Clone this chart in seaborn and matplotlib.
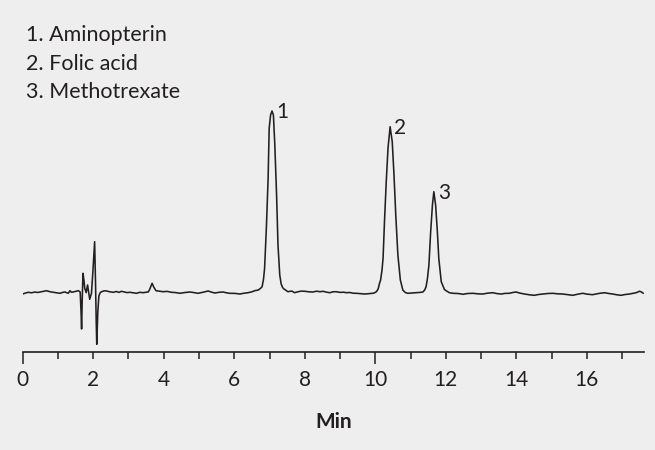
import matplotlib
matplotlib.use("Agg")
import matplotlib.pyplot as plt
import seaborn as sns
import pandas as pd

# Retention time (min) and detector signal (arbitrary units, baseline = 0)
time_min = [
    0.00, 0.08, 0.16, 0.25, 0.35, 0.42, 0.49, 0.58, 0.68, 0.77, 0.87, 0.96,
    1.06, 1.13, 1.20, 1.29, 1.34, 1.38, 1.43, 1.50, 1.58, 1.63,
    1.655, 1.67, 1.69, 1.71, 1.735, 1.76, 1.80, 1.84, 1.87, 1.90, 1.95,
    1.99, 2.04, 2.065, 2.085, 2.10, 2.13, 2.16, 2.20, 2.24, 2.31, 2.38,
    2.47, 2.57, 2.66, 2.73, 2.80, 2.88, 2.96, 3.04, 3.13, 3.23, 3.32,
    3.42, 3.50, 3.56, 3.60, 3.63, 3.67, 3.72, 3.78, 3.88, 3.98, 4.10,
    4.22, 4.34, 4.46, 4.60, 4.74, 4.86, 4.97, 5.12, 5.26, 5.36, 5.45,
    5.57, 5.68, 5.78, 5.87, 6.02, 6.16, 6.28, 6.39, 6.50, 6.58, 6.68,
    6.74, 6.79, 6.83, 6.86, 6.91, 6.96, 6.99, 7.03, 7.07, 7.11, 7.15,
    7.20, 7.24, 7.29, 7.33, 7.37, 7.40, 7.45, 7.52, 7.60, 7.64, 7.71,
    7.80, 7.90, 8.00, 8.12, 8.23, 8.33, 8.43, 8.52, 8.62, 8.71, 8.80,
    8.89, 9.00, 9.10, 9.18, 9.28, 9.37, 9.46, 9.58, 9.70, 9.82, 9.93,
    9.98, 10.03, 10.08, 10.12, 10.15, 10.19, 10.22, 10.26, 10.31, 10.36,
    10.42, 10.48, 10.53, 10.58, 10.64, 10.71, 10.78, 10.85, 10.92, 11.04,
    11.16, 11.27, 11.35, 11.40, 11.44, 11.48, 11.52, 11.57, 11.62, 11.66,
    11.71, 11.76, 11.80, 11.87, 11.96, 12.02, 12.10, 12.20, 12.34, 12.41,
    12.48, 12.62, 12.77, 12.90, 13.05, 13.18, 13.33, 13.45, 13.57, 13.68,
    13.80, 13.90, 13.99, 14.11, 14.23, 14.37, 14.51, 14.63, 14.75, 14.89,
    15.03, 15.17, 15.31, 15.45, 15.60, 15.74, 15.88, 16.02, 16.16, 16.33,
    16.50, 16.62, 16.73, 16.85, 16.97, 17.09, 17.21, 17.31, 17.40, 17.49,
    17.55, 17.60,
]
signal = [
    -2.0, -1.0, -0.3, -0.8, 0.0, -0.5, 0.0, 0.6, 1.3, 0.3, -0.3, -0.8,
    -1.3, -0.4, 0.0, -1.3, 1.3, -0.2, 0.0, 0.6, 1.3, 0.0,
    -20.0, -37.0, -5.0, 18.7, 12.0, 3.7, -0.7, 7.0, 0.0, -7.3, -1.3,
    20.0, 50.3, 10.0, -30.0, -52.3, -20.0, -4.0, -0.5, 0.3, 1.2, 1.0,
    0.2, -0.3, 0.5, -0.4, 0.7, 0.1, -0.6, -0.3, -0.8, -1.3, -0.3,
    -0.7, -0.2, 0.0, 2.5, 5.3, 8.7, 4.7, 1.3, 0.8, 0.3, 0.6,
    -0.3, -0.6, -1.3, -0.5, 0.0, -0.6, -1.3, -0.2, 1.0, -0.2, -1.0,
    -0.3, 0.0, -0.8, -1.3, -1.4, -2.0, -1.2, -0.7, 0.2, 1.3, 2.0,
    3.5, 5.3, 13.0, 23.7, 63.7, 113.7, 163.7, 177.0, 181.0, 177.0, 147.0,
    97.0, 47.0, 17.0, 8.0, 4.5, 3.3, 2.0, 0.3, 0.8, 0.8, -0.7,
    0.2, 0.9, 0.7, 0.2, 0.0, 0.8, 0.3, 0.7, -0.2, -0.7, 0.2,
    0.3, -0.4, -0.2, -0.7, -0.5, -1.2, -1.3, -1.6, -2.0, -1.6, -1.3,
    -0.8, 0.3, 3.0, 8.7, 12.0, 22.0, 33.7, 70.3, 110.3, 143.7,
    165.3, 150.3, 117.0, 77.0, 37.0, 12.0, 2.0, -0.5, -1.3, -1.0,
    -0.7, -0.4, 0.0, 2.0, 5.3, 14.0, 27.0, 60.3, 87.0, 100.3,
    87.0, 60.3, 33.7, 10.3, 2.5, 1.0, -0.7, -1.3, -1.5, -1.8,
    -2.3, -1.5, -1.3, -1.8, -2.0, -1.2, -0.7, -1.6, -2.0, -1.4,
    -1.3, -0.5, 0.0, -1.2, -2.0, -2.8, -3.3, -2.5, -2.0, -1.5,
    -1.3, -1.8, -2.0, -2.6, -3.3, -2.2, -1.3, -2.2, -2.7, -1.5,
    -0.7, -1.5, -2.0, -2.8, -3.3, -2.5, -2.0, -1.3, -0.7, 0.7,
    0.0, -1.3,
]

peak_numbers = ["1", "2", "3"]
peak_times = [7.07, 10.42, 11.66]
peak_heights = [181.0, 165.3, 100.3]
compound_names = ["1. Aminopterin", "2. Folic acid", "3. Methotrexate"]
tick_values = list(range(0, 18))
tick_labels = [str(v) if v % 2 == 0 else "" for v in tick_values]

BG = "#eeeeee"
INK = "#231f20"
FONT = ["Lato", "DejaVu Sans"]

sns.set_theme(style="white")
plt.rcParams["font.family"] = FONT

fig = plt.figure(figsize=(6.55, 4.5), dpi=100, facecolor=BG)
ax = fig.add_axes([22.7 / 655, 98 / 450, (644 - 22.7) / 655, 332 / 450])
ax.set_facecolor(BG)

df = pd.DataFrame({"Min": time_min, "Signal": signal})
sns.lineplot(data=df, x="Min", y="Signal", ax=ax, color=INK, linewidth=1.15,
             estimator=None, sort=False)

ax.set_xlim(0, 17.62)
ax.set_ylim(-60, 272)

for sp in ["top", "right", "left"]:
    ax.spines[sp].set_visible(False)
ax.spines["bottom"].set_color(INK)
ax.spines["bottom"].set_linewidth(1.2)

ax.set_yticks([])
ax.set_ylabel("")
ax.set_xticks(tick_values)
ax.set_xticklabels(tick_labels)
ax.tick_params(axis="x", direction="out", length=5, width=1.1, color=INK,
               pad=8, labelsize=15, labelcolor=INK)
ax.tick_params(axis="x", which="major", bottom=True)
for i, tk in enumerate(ax.xaxis.get_major_ticks()):
    if tick_values[i] in (0, 10):
        tk.tick1line.set_markersize(8.8)

ax.set_xlabel("Min", fontsize=15, fontweight="bold", color=INK, labelpad=16)

for num, t, h in zip(peak_numbers, peak_times, peak_heights):
    ax.annotate(num, xy=(t, h), xytext=(3, -1), textcoords="offset points",
                ha="left", va="center", fontsize=15, color=INK)

for i, name in enumerate(compound_names):
    fig.text(26 / 655, 1 - (35 + 28.5 * i) / 450, name, ha="left", va="center",
             fontsize=15.5, color=INK)

fig.savefig("out.png", dpi=100, facecolor=BG)
